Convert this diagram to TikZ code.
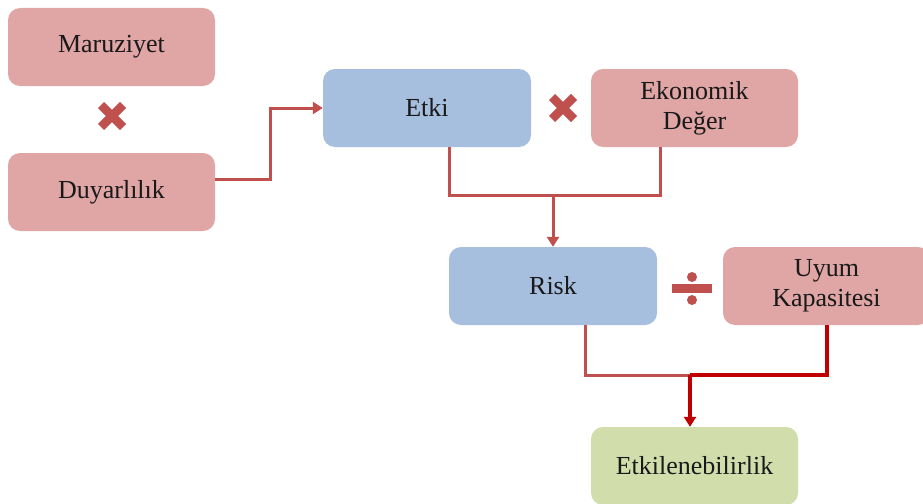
\documentclass[tikz,border=0pt]{standalone}
\usepackage{fontspec}
\setmainfont{Liberation Serif}
\usetikzlibrary{arrows.meta,calc}
\definecolor{pinkfill}{RGB}{224,165,165}
\definecolor{bluefill}{RGB}{167,191,222}
\definecolor{greenfill}{RGB}{209,222,172}
\definecolor{lred}{RGB}{192,80,77}
\definecolor{dred}{RGB}{192,0,0}
\tikzset{
  box/.style={rounded corners=12pt, minimum width=207pt, minimum height=78pt, align=center,
    font=\fontsize{26}{30}\selectfont, text=black!90, inner sep=0pt},
  pinkbox/.style={box, fill=pinkfill},
  bluebox/.style={box, fill=bluefill},
  greenbox/.style={box, fill=greenfill},
  conn/.style={draw=lred, line width=3pt},
  dconn/.style={draw=dred, line width=3.5pt},
  tip/.style={-{Triangle[width=12pt,length=10pt]}},
  opmark/.style={draw=lred, line width=8.5pt},
}
\begin{document}
\begin{tikzpicture}[x=1pt,y=-1pt]
\useasboundingbox (0,0) rectangle (923,503);
\node[pinkbox] (mar) at (111.5,47) {Maruziyet};
\node[pinkbox] (duy) at (111.5,192) {Duyarlılık};
\node[bluebox, minimum width=208pt] (etki) at (427,108) {Etki};
\node[pinkbox] (eko) at (694.5,108) {Ekonomik\\Değer};
\node[bluebox, minimum width=208pt] (risk) at (553,286) {Risk};
\node[pinkbox] (uyum) at (826.5,286) {Uyum\\Kapasitesi};
\node[greenbox] (etk) at (694.5,466) {Etkilenebilirlik};
% multiply marks
\draw[opmark] (101,105) -- (123,127) (101,127) -- (123,105);
\draw[opmark] (552,97) -- (574,119) (552,119) -- (574,97);
% divide mark
\fill[lred] (672,283.5) rectangle (712,292.5);
\fill[lred] (692,277) circle (5pt) (692,300) circle (5pt);
% connectors
\draw[conn,tip] (duy.east |- 0,179) -- ++(55,0) |- (etki.west);
\draw[conn] (449,0 |- etki.south) |- (660,195) -- (660,0 |- eko.south);
\draw[conn,tip] (553,195) -- (risk.north);
\draw[conn] (585,0 |- risk.south) |- (690,375);
\draw[dconn] (827,0 |- uyum.south) |- (690,375);
\draw[dconn,tip] (690,375) -- (690,0 |- etk.north);
\end{tikzpicture}
\end{document}
